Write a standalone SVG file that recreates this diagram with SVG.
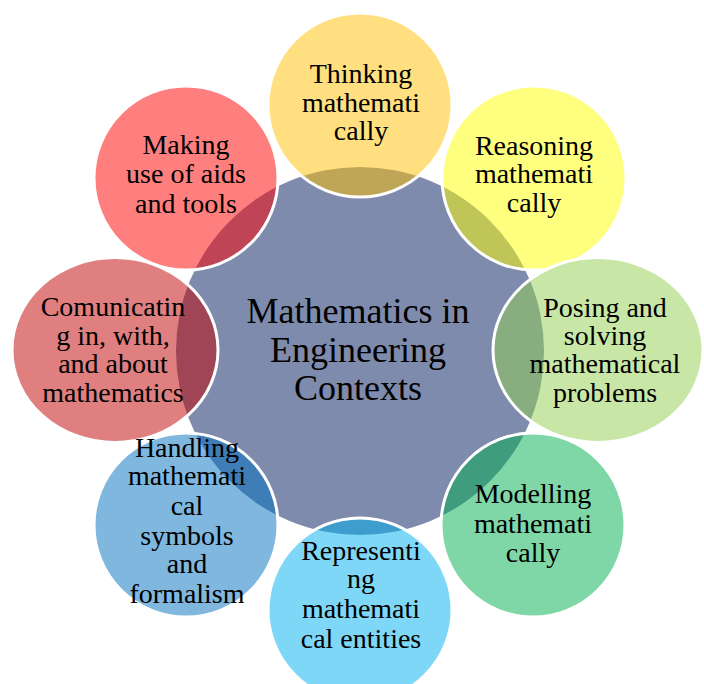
<svg xmlns="http://www.w3.org/2000/svg" width="704" height="684" viewBox="0 0 704 684">
<style>
.bubble{fill-opacity:0.5;stroke:#FFFFFF;stroke-width:3}
.lbl{font-family:"Liberation Serif","Times New Roman",serif;font-size:28px;fill:#000000;text-anchor:middle}
.main{font-family:"Liberation Serif","Times New Roman",serif;font-size:36px;fill:#000000;text-anchor:middle}
</style>
<rect x="0" y="0" width="704" height="684" fill="#FFFFFF"/>
<g id="center">
<circle cx="360" cy="351" r="184" fill="#7F8BAD"/>
<text class="main"><tspan x="358" y="323">Mathematics in</tspan><tspan x="358" y="362">Engineering</tspan><tspan x="358" y="400">Contexts</tspan></text>
</g>
<g id="thinking">
<circle class="bubble" cx="360" cy="105" r="92" fill="#FFC000"/>
<text class="lbl"><tspan x="361" y="83">Thinking</tspan><tspan x="361" y="112">mathemati</tspan><tspan x="361" y="140">cally</tspan></text>
</g>
<g id="reasoning">
<circle class="bubble" cx="534" cy="178" r="92" fill="#FFFF00"/>
<text class="lbl"><tspan x="534" y="155">Reasoning</tspan><tspan x="534" y="183">mathemati</tspan><tspan x="534" y="212">cally</tspan></text>
</g>
<g id="posing">
<ellipse class="bubble" cx="598" cy="350" rx="105" ry="92.5" fill="#92D050"/>
<text class="lbl"><tspan x="605" y="317">Posing and</tspan><tspan x="605" y="345">solving</tspan><tspan x="605" y="373">mathematical</tspan><tspan x="605" y="402">problems</tspan></text>
</g>
<g id="modelling">
<circle class="bubble" cx="533" cy="525" r="92" fill="#00B050"/>
<text class="lbl"><tspan x="533" y="503">Modelling</tspan><tspan x="533" y="533">mathemati</tspan><tspan x="533" y="562">cally</tspan></text>
</g>
<g id="representing">
<circle class="bubble" cx="360" cy="610" r="92" fill="#00B0F0"/>
<text class="lbl"><tspan x="361" y="560">Representi</tspan><tspan x="361" y="588">ng</tspan><tspan x="361" y="618">mathemati</tspan><tspan x="361" y="648">cal entities</tspan></text>
</g>
<g id="making">
<circle class="bubble" cx="186" cy="178" r="92" fill="#FF0000"/>
<text class="lbl"><tspan x="186" y="154">Making</tspan><tspan x="186" y="183">use of aids</tspan><tspan x="186" y="213">and tools</tspan></text>
</g>
<g id="communicating">
<ellipse class="bubble" cx="115" cy="350" rx="103" ry="92.5" fill="#C00000"/>
<text class="lbl"><tspan x="113" y="316">Comunicatin</tspan><tspan x="113" y="344.5">g in, with,</tspan><tspan x="113" y="373">and about</tspan><tspan x="113" y="402">mathematics</tspan></text>
</g>
<g id="handling">
<circle class="bubble" cx="186" cy="525" r="92" fill="#0070C0"/>
<text class="lbl"><tspan x="187" y="457">Handling</tspan><tspan x="187" y="485">mathemati</tspan><tspan x="187" y="515">cal</tspan><tspan x="187" y="545">symbols</tspan><tspan x="187" y="573">and</tspan><tspan x="187" y="603">formalism</tspan></text>
</g>
</svg>
